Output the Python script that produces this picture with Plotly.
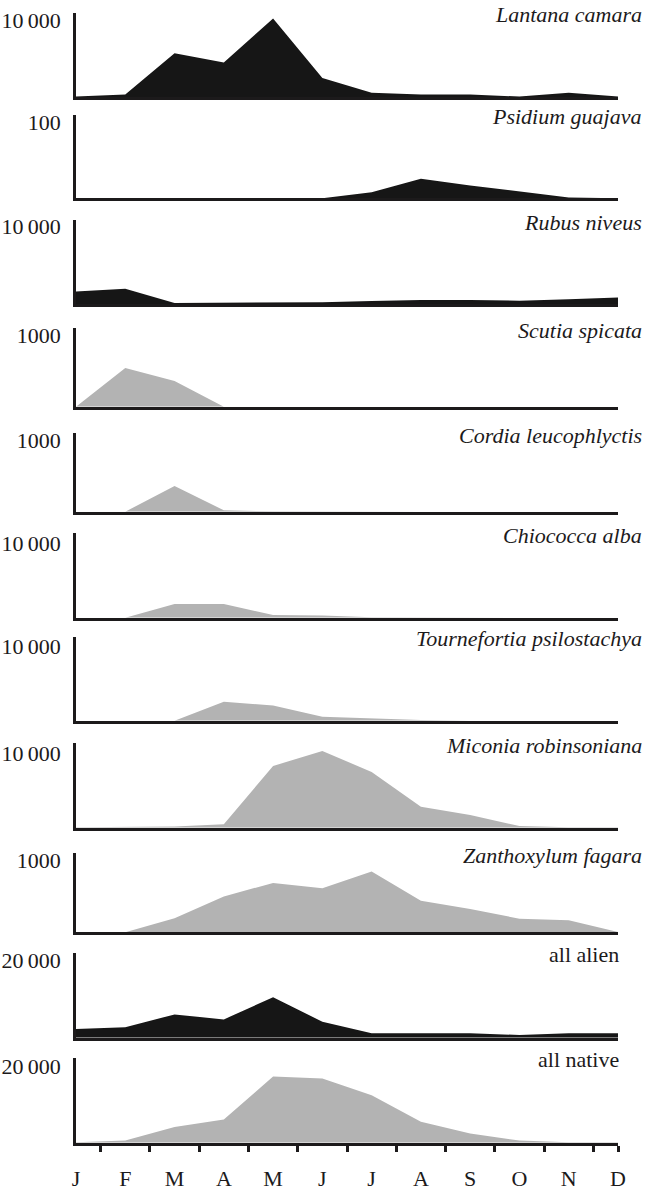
import plotly.graph_objects as go

# ---- data ----
months = ["J", "F", "M", "A", "M", "J", "J", "A", "S", "O", "N", "D"]

names = ["Lantana camara", "Psidium guajava", "Rubus niveus", "Scutia spicata",
         "Cordia leucophlyctis", "Chiococca alba", "Tournefortia psilostachya",
         "Miconia robinsoniana", "Zanthoxylum fagara", "all alien", "all native"]

lantana = [100, 350, 5700, 4500, 10200, 2500, 600, 350, 350, 100, 600, 100]
psidium = [0, 0, 0, 0, 0, 0, 8, 26, 17, 9, 1, 0]
rubus = [1610, 1960, 130, 130, 220, 220, 390, 520, 520, 430, 610, 830]
scutia = [0, 540, 360, 0, 0, 0, 0, 0, 0, 0, 0, 0]
cordia = [0, 0, 360, 20, 5, 0, 0, 0, 0, 0, 0, 0]
chiococca = [0, 0, 1850, 1850, 350, 300, 50, 0, 0, 0, 0, 0]
tournefortia = [0, 0, 0, 2550, 2050, 540, 320, 90, 0, 0, 0, 0]
miconia = [50, 50, 150, 450, 8300, 10300, 7500, 2800, 1700, 220, 50, 50]
zanthoxylum = [0, 0, 195, 500, 690, 615, 850, 440, 325, 190, 170, 5]
all_alien = [2250, 2700, 6050, 4750, 10500, 4150, 1150, 1150, 1150, 700, 1150, 1150]
all_native = [100, 550, 4100, 6100, 17400, 16900, 12500, 5500, 2450, 550, 100, 100]

series = [lantana, psidium, rubus, scutia, cordia, chiococca, tournefortia,
          miconia, zanthoxylum, all_alien, all_native]
axis_max = [10000, 100, 10000, 1000, 1000, 10000, 10000, 10000, 1000, 20000, 20000]
axis_max_text = ["10\u2009000", "100", "10\u2009000", "1000", "1000", "10\u2009000",
                 "10\u2009000", "10\u2009000", "1000", "20\u2009000", "20\u2009000"]
is_alien = [True, True, True, False, False, False, False, False, False, True, False]

# ---- layout geometry (pixels) ----
W, H = 647, 1191
X0, X1 = 76, 618
bases = [97.3, 198.3, 304.0, 406.7, 511.7, 617.7, 720.7, 827.7, 932.3, 1037.7, 1142.7]
tops = [12.7, 115.0, 220.0, 328.3, 433.3, 533.3, 636.7, 743.3, 853.3, 952.7, 1057.7]
label_pos = [20.0, 122.7, 226.7, 335.0, 440.0, 543.3, 646.7, 753.3, 860.7, 960.7, 1066.7]

FONT = "Liberation Serif, Times New Roman, serif"
INK = "#1c1a1b"
BLACK_FILL = "#161616"
GREY_FILL = "#b3b3b3"

fig = go.Figure()
layout = dict(
    template="none",
    width=W, height=H,
    margin=dict(l=0, r=0, t=0, b=0, pad=0),
    paper_bgcolor="white", plot_bgcolor="white",
    showlegend=False,
    font=dict(family=FONT, size=22, color=INK),
)
annotations = []
n = len(series)
x_vals = list(range(len(months)))

for i in range(n):
    k = i + 1
    xa = "x" if k == 1 else f"x{k}"
    ya = "y" if k == 1 else f"y{k}"
    color = BLACK_FILL if is_alien[i] else GREY_FILL
    fig.add_trace(go.Scatter(
        x=x_vals, y=series[i], mode="lines", fill="tozeroy",
        fillcolor=color, line=dict(width=0, color=color),
        xaxis=xa, yaxis=ya, hoverinfo="skip", showlegend=False))

    ydom = [1 - bases[i] / H, 1 - tops[i] / H]
    rng_top = axis_max[i] * (bases[i] - tops[i]) / (bases[i] - label_pos[i])
    xkey = "xaxis" if k == 1 else f"xaxis{k}"
    ykey = "yaxis" if k == 1 else f"yaxis{k}"

    xdict = dict(domain=[X0 / W, X1 / W], anchor=ya, range=[0, 11],
                 showline=True, linewidth=3, linecolor=INK, showgrid=False,
                 zeroline=False, fixedrange=True, automargin=False)
    if k == n:
        xdict.update(tickmode="array",
                     tickvals=[j + 0.5 for j in range(11)] + [11],
                     ticktext=[""] * 12, ticks="outside", ticklen=6,
                     tickwidth=2.5, tickcolor=INK, showticklabels=False)
    else:
        xdict.update(showticklabels=False, ticks="")
    layout[xkey] = xdict

    layout[ykey] = dict(domain=ydom, anchor=xa, range=[0, rng_top],
                        tickmode="array", tickvals=[axis_max[i]],
                        ticktext=[axis_max_text[i]], ticks="",
                        ticklabelstandoff=8,
                        tickfont=dict(family=FONT, size=22, color=INK),
                        showline=True, linewidth=2.5, linecolor=INK,
                        showgrid=False, zeroline=False, fixedrange=True,
                        automargin=False)

    italic = not names[i].startswith("all")
    right_px = 644 if italic else 621
    annotations.append(dict(
        text=f"<i>{names[i]}</i>" if italic else names[i],
        xref="paper", yref="paper", x=right_px / W, y=1 - (tops[i] + 2) / H,
        xanchor="right", yanchor="middle", showarrow=False,
        font=dict(family=FONT, size=22, color=INK)))

# month labels on an overlaying axis so that they sit between the tick marks
fig.add_trace(go.Scatter(x=[], y=[], xaxis=f"x{n + 1}", yaxis=f"y{n}",
                         showlegend=False, hoverinfo="skip"))
layout[f"xaxis{n + 1}"] = dict(overlaying=f"x{n}", anchor=f"y{n}", side="bottom",
                               range=[0, 11], tickmode="array", tickvals=x_vals,
                               ticktext=months, ticks="", showline=False,
                               showgrid=False, zeroline=False,
                               ticklabelstandoff=20, automargin=False,
                               tickfont=dict(family=FONT, size=22, color=INK),
                               fixedrange=True)

layout["annotations"] = annotations
fig.update_layout(**layout)
fig.write_html("out.html", config={"displayModeBar": False},
               post_script="document.body.style.margin='0';document.body.style.overflow='hidden';")
